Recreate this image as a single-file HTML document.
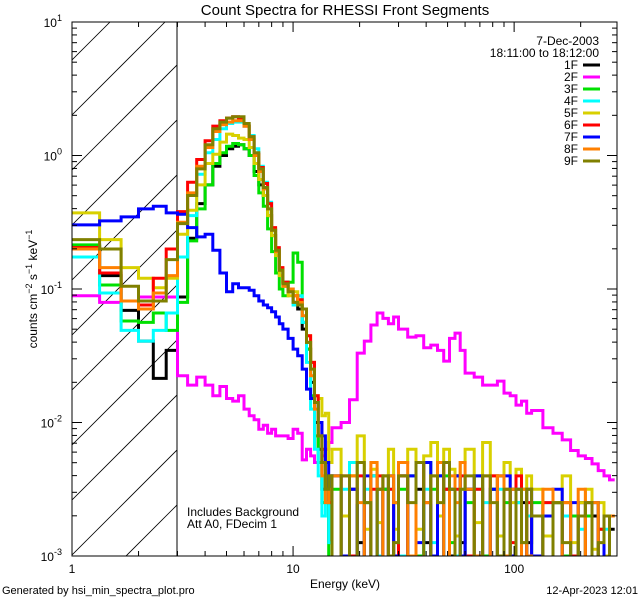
<!DOCTYPE html>
<html><head><meta charset="utf-8"><style>
html,body{margin:0;padding:0;background:#fff;width:640px;height:600px;overflow:hidden;}
svg{display:block;font-family:"Liberation Sans",sans-serif;}
</style></head><body>
<svg id="chart" width="640" height="600" viewBox="0 0 640 600">
<rect x="0" y="0" width="640" height="600" fill="#fff"/>
<defs><clipPath id="plotclip"><rect x="72" y="22" width="545" height="534"/></clipPath>
<clipPath id="hatchclip"><rect x="72" y="22" width="105" height="534"/></clipPath></defs>
<g id="hatch" clip-path="url(#hatchclip)"></g>
<line x1="177" y1="22" x2="177" y2="556" stroke="#000" stroke-width="1"/>
<g id="series" clip-path="url(#plotclip)"></g>
<g id="axes"></g>
<text x="345" y="15" text-anchor="middle" font-size="15">Count Spectra for RHESSI Front Segments</text>
<text x="345" y="588" text-anchor="middle" font-size="12">Energy (keV)</text>
<text transform="translate(37,289) rotate(-90)" text-anchor="middle" font-size="12">counts cm<tspan dy="-5" font-size="9">−2</tspan><tspan dy="5"> s</tspan><tspan dy="-5" font-size="9">−1</tspan><tspan dy="5"> keV</tspan><tspan dy="-5" font-size="9">−1</tspan></text>
<text x="187" y="516" font-size="12">Includes Background</text>
<text x="187" y="528" font-size="12">Att A0, FDecim 1</text>
<text x="2" y="594" font-size="11">Generated by hsi_min_spectra_plot.pro</text>
<text x="638" y="594" text-anchor="end" font-size="11">12-Apr-2023 12:01</text>
<text x="599" y="45" text-anchor="end" font-size="12">7-Dec-2003</text>
<text x="599" y="57" text-anchor="end" font-size="12">18:11:00 to 18:12:00</text>
<g id="legend"></g>
</svg>
<script>
const edges=[1,1.333,1.667,2,2.333,2.667,3,3.333,3.667,4,4.333,4.667,5,5.333,5.667,6,6.333,6.667,7,7.333,7.667,8,8.333,8.667,9,
9.5,10,10.5,11,11.5,12,12.5,13,13.5,14,14.5,15,
16.5,18,19.5,21,22.5,24,25.5,27,28.5,30,
33,36,39,42,45,48,51,54,57,60,
66,72,78,84,90,96,102,108,114,120,
135,150,165,180,195,210,225,240,255,270,285];
const seriesNames=["1F","2F","3F","4F","5F","6F","7F","8F","9F"];
const seriesColors=["#000000","#ff00ff","#00e000","#00ffff","#d8d000","#ff0000","#0000ff","#ff8000","#808000"];
// log10 counts per bin
const log1F=[-0.68,-0.90,-1.16,-1.39,-1.67,-1.46,
-1.06,-0.62,-0.36,-0.22,-0.08,0.0,0.05,0.07,0.08,0.05,0.0,-0.12,-0.22,-0.30,-0.45,-0.60,-0.72,-0.85,
-0.95,-1.02,-1.10,-1.15,-1.30,-1.45,-1.70,-2.0,-2.2,-2.5,-2.4,-2.9,
-2.4,-3.2,-2.5,-2.9,-3.5,-2.4,-3.1,-2.5,-3.5,-2.6,
-2.4,-3.1,-2.5,-2.9,-3.3,-2.4,-2.5,-3.0,-2.4,-2.9,
-2.5,-3.0,-3.4,-2.5,-2.4,-3.1,-2.5,-3.5,-2.6,-2.9,
-2.7,-3.1,-2.6,-3.0,-3.5,-2.6,-3.1,-2.7,-3.2,-3.5,-2.8];
const log2F=[-1.05,-1.10,-1.09,-1.06,-1.06,-1.06,
-1.65,-1.72,-1.66,-1.72,-1.80,-1.73,-1.82,-1.84,-1.80,-1.90,-1.95,-1.98,-2.05,-2.02,-2.08,-2.05,-2.10,-2.10,
-2.10,-2.12,-2.05,-2.08,-2.28,-2.20,-2.25,-2.30,-2.30,-2.25,-2.20,-2.15,
-2.04,-2.00,-1.83,-1.48,-1.39,-1.27,-1.18,-1.22,-1.26,-1.21,
-1.30,-1.36,-1.35,-1.44,-1.42,-1.46,-1.54,-1.37,-1.33,-1.46,
-1.63,-1.66,-1.72,-1.72,-1.69,-1.78,-1.80,-1.87,-1.84,-1.93,
-1.91,-2.04,-2.08,-2.13,-2.21,-2.25,-2.27,-2.31,-2.36,-2.40,-2.43];
const log3F=[-0.67,-0.97,-1.24,-1.25,-1.18,-1.31,
-1.10,-0.64,-0.40,-0.22,-0.06,0.02,0.07,0.09,0.08,0.05,0.0,-0.15,-0.28,-0.38,-0.55,-0.72,-0.88,-1.0,
-1.05,-0.95,-0.73,-0.80,-1.25,-1.45,-1.8,-2.1,-2.3,-2.6,-2.4,-3.2,
-2.5,-3.1,-2.4,-3.5,-2.6,-2.4,-3.1,-2.5,-2.4,-3.0,
-2.5,-2.4,-3.0,-2.3,-2.5,-3.1,-2.4,-2.9,-2.4,-3.2,
-2.6,-2.4,-3.0,-2.5,-3.1,-2.6,-3.4,-2.6,-2.5,-3.1,
-2.6,-3.2,-2.6,-3.0,-2.7,-3.5,-2.7,-3.1,-2.8,-3.3,-3.5];
const log4F=[-0.76,-1.03,-1.31,-1.39,-1.31,-1.18,
-0.76,-0.45,-0.14,0.02,0.12,0.20,0.24,0.25,0.25,0.22,0.15,0.05,-0.08,-0.20,-0.35,-0.55,-0.70,-0.85,
-0.98,-1.00,-1.12,-1.05,-1.25,-1.55,-1.9,-2.2,-2.4,-2.7,-2.5,-2.9,
-3.2,-2.5,-2.3,-3.1,-2.5,-2.4,-3.0,-3.2,-2.5,-2.6,
-3.0,-2.4,-3.1,-2.5,-2.9,-2.4,-3.3,-2.5,-3.0,-2.5,
-3.1,-2.5,-2.6,-3.3,-2.5,-3.0,-3.5,-2.6,-3.1,-2.7,
-3.2,-2.6,-3.1,-2.7,-3.3,-2.8,-2.6,-3.2,-3.4,-2.8,-3.5];
const log5F=[-0.43,-0.63,-0.84,-0.92,-0.99,-0.92,
-0.59,-0.41,-0.22,-0.06,0.01,0.10,0.16,0.15,0.13,0.12,0.06,-0.06,-0.18,-0.30,-0.45,-0.60,-0.75,-0.90,
-0.98,-1.05,-1.02,-1.10,-1.15,-1.35,-1.55,-1.80,-1.82,-1.95,-1.93,-2.30,
-2.20,-2.70,-2.40,-2.10,-2.80,-2.35,-2.75,-2.40,-2.20,-2.80,
-2.30,-2.20,-2.80,-2.25,-2.15,-2.70,-2.20,-2.35,-2.85,-2.30,
-2.20,-2.75,-2.15,-2.40,-2.85,-2.30,-2.60,-2.35,-2.90,-2.40,
-2.50,-2.85,-2.60,-2.40,-2.90,-2.60,-2.50,-2.95,-2.60,-3.00,-2.70];
const log6F=[-0.69,-0.88,-1.09,-1.12,-0.92,-0.70,
-0.42,-0.20,-0.03,0.11,0.22,0.26,0.28,0.29,0.28,0.22,0.14,0.01,-0.09,-0.21,-0.36,-0.54,-0.69,-0.84,
-0.95,-1.00,-1.05,-1.08,-1.15,-1.35,-1.55,-1.80,-2.00,-2.20,-2.50,-2.60,
-3.5,-2.4,-3.0,-2.4,-3.5,-2.5,-2.4,-3.1,-2.5,-3.3,
-2.4,-3.1,-2.3,-2.6,-3.3,-2.3,-2.5,-3.2,-2.5,-2.4,
-3.0,-2.5,-3.1,-2.4,-3.2,-2.5,-2.9,-2.4,-3.3,-2.6,
-3.1,-2.6,-3.3,-2.6,-3.0,-3.2,-2.6,-3.5,-2.8,-3.2,-3.5];
const log7F=[-0.52,-0.49,-0.46,-0.40,-0.38,-0.43,
-0.44,-0.54,-0.61,-0.59,-0.71,-0.88,-1.02,-0.96,-0.99,-0.99,-1.01,-1.05,-1.09,-1.12,-1.14,-1.17,-1.21,-1.26,
-1.30,-1.37,-1.45,-1.50,-1.60,-1.75,-1.82,-1.85,-2.00,-2.10,-2.30,-2.50,
-2.4,-3.0,-2.5,-3.1,-2.4,-3.5,-2.5,-3.1,-2.4,-3.0,
-3.1,-2.4,-2.9,-2.3,-3.0,-2.4,-3.2,-2.5,-2.4,-3.0,
-2.5,-2.4,-3.1,-2.5,-3.2,-2.4,-3.0,-2.5,-3.1,-2.5,
-3.0,-2.7,-2.5,-3.2,-2.6,-3.1,-3.3,-2.6,-3.2,-2.7,-3.2];
const log8F=[-0.70,-0.84,-1.09,-1.15,-1.03,-0.90,
-0.50,-0.28,-0.08,0.06,0.18,0.23,0.25,0.26,0.26,0.22,0.12,0.0,-0.12,-0.25,-0.40,-0.56,-0.72,-0.86,
-0.98,-1.00,-1.05,-1.10,-1.20,-1.40,-1.65,-1.90,-2.10,-2.40,-2.60,-2.50,
-2.4,-3.1,-2.4,-2.6,-3.2,-2.3,-2.5,-3.3,-2.4,-2.6,
-2.3,-3.0,-2.3,-2.6,-2.4,-2.3,-3.1,-2.4,-2.6,-2.3,
-2.5,-3.0,-2.4,-3.1,-2.4,-3.0,-2.5,-3.2,-2.5,-3.0,
-3.1,-2.5,-3.2,-2.6,-3.1,-2.5,-3.2,-2.6,-3.1,-3.2,-2.7];
const log9F=[-0.63,-0.70,-0.98,-1.09,-1.09,-0.78,
-0.51,-0.30,-0.10,0.08,0.20,0.25,0.28,0.29,0.29,0.24,0.14,0.02,-0.10,-0.24,-0.40,-0.56,-0.71,-0.86,
-0.96,-1.02,-1.10,-1.12,-1.15,-1.40,-1.60,-1.85,-2.10,-2.30,-2.50,-2.40,
-3.5,-2.4,-3.1,-2.3,-2.6,-3.5,-2.5,-2.4,-3.0,-2.9,
-2.4,-2.6,-2.3,-3.1,-2.4,-2.6,-2.3,-2.5,-3.1,-2.5,
-2.4,-3.1,-2.4,-2.6,-3.0,-2.5,-3.1,-2.5,-2.9,-2.5,
-2.7,-3.1,-2.6,-2.9,-3.2,-2.7,-2.6,-3.2,-2.9,-2.7,-3.5];
const allLogs=[log1F,log2F,log3F,log4F,log5F,log6F,log7F,log8F,log9F];
const xTickMajors=[1,10,100];
const yTickExps=[-3,-2,-1,0,1];

const NS="http://www.w3.org/2000/svg";
const X0=72,X1=617,Y0=22,Y1=556;
const xMinLog=0,xMaxLog=Math.log10(292);
const yMinLog=-3,yMaxLog=1;
function xs(e){return X0+(Math.log10(e)-xMinLog)/(xMaxLog-xMinLog)*(X1-X0);}
function ys(l){return Y1-(l-yMinLog)/(yMaxLog-yMinLog)*(Y1-Y0);}
function mk(tag,attrs,parent){const el=document.createElementNS(NS,tag);for(const k in attrs)el.setAttribute(k,attrs[k]);parent.appendChild(el);return el;}

// hatch
const hatch=document.getElementById('hatch');
for(let c=-300;c<700;c+=55){
  const ln=mk('line',{x1:72,y1:85+c,x2:72+600,y2:85+c-600,stroke:'#000','stroke-width':0.8},hatch);
  
  
}

// series
const sg=document.getElementById('series');
allLogs.forEach((vals,si)=>{
  let d='';
  vals.forEach((v,i)=>{
    const xa=xs(edges[i]).toFixed(1),xb=xs(edges[i+1]).toFixed(1),y=ys(Math.max(v,-3.6)).toFixed(1);
    d+=(i===0?'M':'L')+xa+','+y+'L'+xb+','+y;
  });
  const p=mk('path',{d:d,fill:'none',stroke:seriesColors[si],'stroke-width':3,'stroke-linejoin':'miter'},sg);
  
  
});

// axes
const ax=document.getElementById('axes');
const frame=mk('rect',{x:X0,y:Y0,width:X1-X0,height:Y1-Y0,fill:'none',stroke:'#000','stroke-width':1},ax);


for(let dec=1;dec<=100;dec*=10){
  for(let m=1;m<10;m++){
    const e=dec*m; if(e>292)break;
    const x=xs(e); const len=(m===1)?10:5;
    mk('line',{x1:x,y1:Y1,x2:x,y2:Y1-len,stroke:'#000'},ax);
    mk('line',{x1:x,y1:Y0,x2:x,y2:Y0+len,stroke:'#000'},ax);
  }
}
xTickMajors.forEach(e=>{
  const t=mk('text',{x:xs(e),y:573,'text-anchor':'middle','font-size':12},ax);
  t.textContent=String(e);
  
  
});
for(let ex=-3;ex<=1;ex++){
  for(let m=1;m<10;m++){
    const l=ex+Math.log10(m); if(l>1)break;
    const y=ys(l); const len=(m===1)?10:5;
    mk('line',{x1:X0,y1:y,x2:X0+len,y2:y,stroke:'#000'},ax);
    mk('line',{x1:X1,y1:y,x2:X1-len,y2:y,stroke:'#000'},ax);
  }
}
yTickExps.forEach(ex=>{
  const t=mk('text',{x:62,y:ys(ex)+5,'text-anchor':'end','font-size':12},ax);
  
  
  const a=document.createElementNS(NS,'tspan');a.textContent='10';t.appendChild(a);
  const b=document.createElementNS(NS,'tspan');b.setAttribute('dy','-6');b.setAttribute('font-size','9');b.textContent=String(ex);t.appendChild(b);
});

// legend
const lg=document.getElementById('legend');
seriesNames.forEach((n,i)=>{
  const y=69+i*12;
  const t=mk('text',{x:578,y:y,'text-anchor':'end','font-size':12},lg);
  t.textContent=n;
  
  
  const l=mk('line',{x1:583,y1:y-4,x2:600,y2:y-4,stroke:seriesColors[i],'stroke-width':3},lg);
  
  
});
</script>
</body></html>
